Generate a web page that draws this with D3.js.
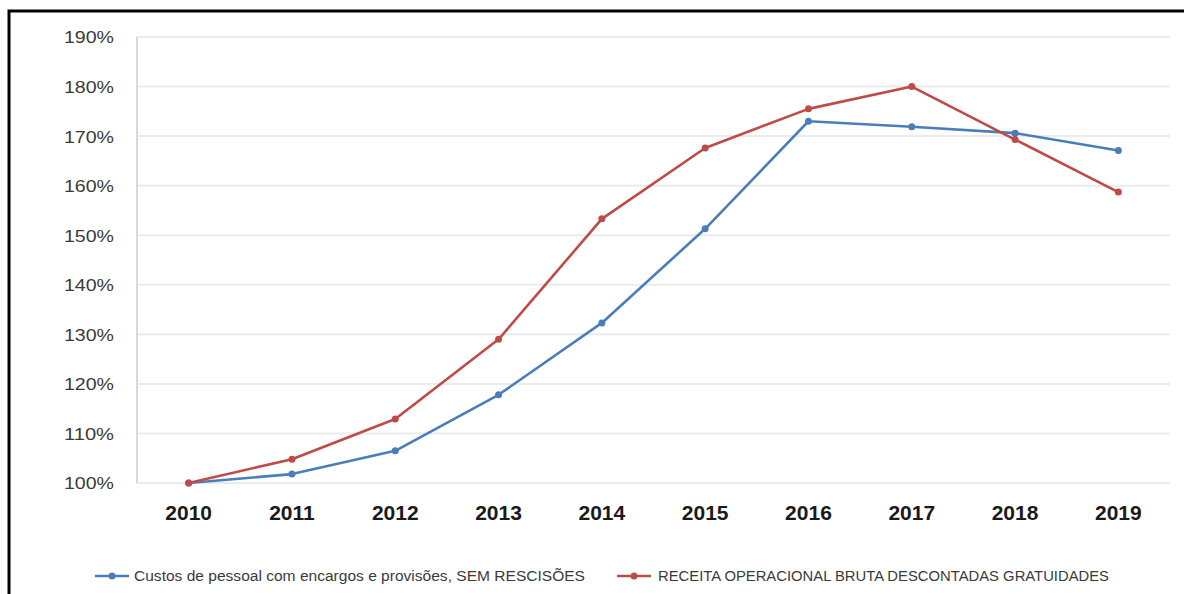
<!DOCTYPE html>
<html><head><meta charset="utf-8">
<script src="https://cdn.jsdelivr.net/npm/d3@7"></script>
<style>body{margin:0;background:#fff}svg{display:block}</style>
</head><body>
<svg id="c" width="1184" height="594"></svg>
<script>
const years = ["2010","2011","2012","2013","2014","2015","2016","2017","2018","2019"];
const custos = [100, 101.8, 106.5, 117.8, 132.3, 151.3, 173.0, 171.9, 170.6, 167.1];
const receita = [100, 104.8, 112.9, 129.0, 153.3, 167.6, 175.5, 180.0, 169.3, 158.7];
const yTicks = [100,110,120,130,140,150,160,170,180,190];
const seriesNames = ["Custos de pessoal com encargos e provisões, SEM RESCISÕES","RECEITA OPERACIONAL BRUTA DESCONTADAS GRATUIDADES"];
const colors = ["#4A7EBB","#BE4B48"];

const svg = d3.select("#c");
svg.append("path").attr("d","M9,594 V11 H1184").attr("fill","none").attr("stroke","#000").attr("stroke-width",3);

const x = d3.scaleBand().domain(years).range([137,1170]);
const y = d3.scaleLinear().domain([100,190]).range([483,37]);

svg.append("g").selectAll("line").data(yTicks).join("line")
  .attr("x1",137).attr("x2",1170).attr("y1",d=>y(d)).attr("y2",d=>y(d))
  .attr("stroke","#ebebeb").attr("stroke-width",2);
svg.append("line").attr("x1",137).attr("x2",137).attr("y1",y(190)).attr("y2",y(100)).attr("stroke","#d9d9d9").attr("stroke-width",2);

const yAxis = svg.append("g").attr("transform","translate(117,0)")
  .call(d3.axisLeft(y).tickValues(yTicks).tickFormat(d=>d+"%").tickSize(0));
yAxis.select(".domain").remove();
yAxis.selectAll("text").attr("font-family","Liberation Sans, Arial, sans-serif").attr("font-size",17).attr("fill","#3a3a3a").attr("dy","0.35em").attr("textLength",50).attr("lengthAdjust","spacingAndGlyphs");

const xAxis = svg.append("g").attr("transform","translate(0,510)")
  .call(d3.axisBottom(x).tickSize(0));
xAxis.select(".domain").remove();
xAxis.selectAll("text").attr("font-family","Liberation Sans, Arial, sans-serif").attr("font-size",21).attr("font-weight","bold").attr("fill","#1a1a1a").attr("dy","0.35em");

const line = d3.line().x((d,i)=>x(years[i])+x.bandwidth()/2).y(d=>y(d));
[custos, receita].forEach((s,k)=>{
  svg.append("path").datum(s).attr("d",line).attr("fill","none").attr("stroke",colors[k]).attr("stroke-width",2.6).attr("stroke-linejoin","round");
  svg.append("g").selectAll("circle").data(s).join("circle")
    .attr("cx",(d,i)=>x(years[i])+x.bandwidth()/2).attr("cy",d=>y(d)).attr("r",3.5).attr("fill",colors[k]);
});

const leg = [{x:95,tx:134},{x:617,tx:658}];
leg.forEach((l,k)=>{
  const g = svg.append("g");
  g.append("line").attr("x1",l.x).attr("x2",l.x+34).attr("y1",576).attr("y2",576).attr("stroke",colors[k]).attr("stroke-width",2.6);
  g.append("circle").attr("cx",l.x+17).attr("cy",576).attr("r",3.5).attr("fill",colors[k]);
  g.append("text").attr("x",l.tx).attr("y",576).attr("dy","0.35em").attr("font-family","Liberation Sans, Arial, sans-serif").attr("font-size",14).attr("fill","#3a3a3a").attr("textLength",451).attr("lengthAdjust","spacingAndGlyphs").text(seriesNames[k]);
});
</script>
</body></html>
